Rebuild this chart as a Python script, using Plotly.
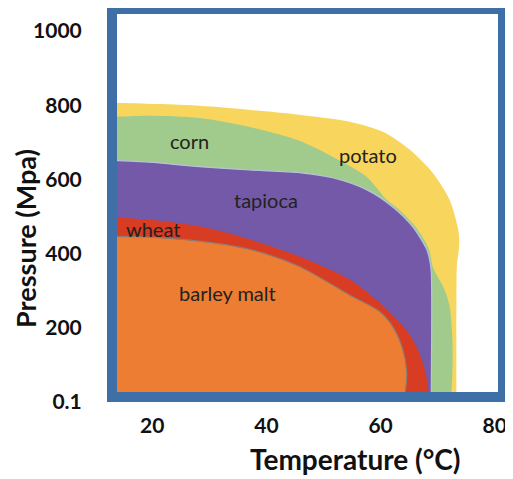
import plotly.graph_objects as go

# Boundary of each crop's region (temperature in °C, pressure in MPa)
potato_temp = [8, 12, 27.4, 36.2, 44.9, 53.7, 59.5, 64.2, 68.2, 71.2, 72.6, 72.9, 72.8, 72.5, 72.4, 72.4, 72.4, 8]
potato_pres = [793, 793, 785, 774, 761, 742, 715, 667, 605, 532, 460, 425, 392, 360, 263, 0, -60, -60]

corn_temp = [8, 12, 18.65, 27.4, 36.2, 44.9, 50.7, 56.65, 60.2, 62.4, 65.3, 67.6, 68.3, 70.3, 71.2, 71.7, 71.7, 71.5, 71.5, 8]
corn_pres = [755, 755, 758, 752, 728, 691, 648, 594, 532, 505, 458, 398, 349, 290, 245, 156, 67, 0, -60, -60]

tapioca_temp = [8, 12, 18.65, 27.4, 36.2, 44.9, 50.7, 56.65, 61.2, 64.7, 67.2, 67.7, 68.0, 68.0, 68.0, 8]
tapioca_pres = [638, 638, 633, 621, 612, 605, 591, 559, 513, 460, 398, 371, 336, 0, -60, -60]

wheat_temp = [8, 12, 18.65, 27.4, 36.2, 44.9, 53.7, 58.9, 62.4, 64.7, 66.5, 67.3, 67.6, 67.6, 8]
wheat_pres = [484, 484, 478, 460, 425, 379, 317, 255, 202, 156, 94, 40, 0, -60, -60]

barley_temp = [8, 12, 18.65, 27.4, 36.2, 44.9, 53.7, 58.9, 61.2, 63.0, 63.7, 63.5, 63.2, 63.2, 8]
barley_pres = [433, 433, 431, 420, 398, 352, 275, 231, 191, 129, 67, 20, 0, -60, -60]

# Label positions (temperature, pressure) and text
label_text = ["potato", "corn", "tapioca", "wheat", "barley malt"]
label_temp = [57.0, 25.7, 39.0, 19.3, 32.3]
label_pres = [653, 689, 532, 452, 280]

y_ticks = [0.1, 200, 400, 600, 800, 1000]
y_ticktext = ["0.1", "200", "400", "600", "800", "1000"]
x_ticks = [20, 40, 60, 80]

regions = [
    ("potato", potato_temp, potato_pres, "#F8D55C", "rgba(0,0,0,0)"),
    ("corn", corn_temp, corn_pres, "#A1CB8C", "rgba(0,0,0,0)"),
    ("tapioca", tapioca_temp, tapioca_pres, "#7459A8", "#B6C3DE"),
    ("wheat", wheat_temp, wheat_pres, "#D83C22", "rgba(0,0,0,0)"),
    ("barley malt", barley_temp, barley_pres, "#EC7D33", "#8E7A70"),
]

fig = go.Figure()
for name, xs, ys, fill, edge in regions:
    fig.add_trace(go.Scatter(
        x=xs, y=ys, mode="lines", fill="toself", fillcolor=fill,
        line=dict(color=edge, width=1.2, shape="spline", smoothing=0.8),
        name=name, hoverinfo="name", showlegend=False,
    ))

for t, xv, yv in zip(label_text, label_temp, label_pres):
    fig.add_annotation(x=xv, y=yv, text=t, showarrow=False,
                       font=dict(family="Lato", size=20, color="#222222"))

title_font = dict(family="Lato", color="#111111", weight="bold")
fig.add_annotation(xref="paper", yref="paper", x=-0.22, y=0.41,
                   text="Pressure (Mpa)", textangle=-90, showarrow=False,
                   xanchor="center", yanchor="middle", font=dict(size=27, **title_font))
fig.add_annotation(xref="paper", yref="paper", x=0.623, y=-0.161,
                   text="Temperature (°C)", showarrow=False,
                   xanchor="center", yanchor="middle", font=dict(size=28, **title_font))

frame_color = "#3F6FA7"
fig.add_shape(type="rect", xref="paper", yref="paper", x0=0, x1=1, y0=0, y1=1,
              line=dict(color=frame_color, width=10), layer="above")

fig.update_xaxes(
    range=[12.08, 80.56], tickvals=x_ticks, showgrid=False, zeroline=False,
    showline=False, ticks="", ticklabelstandoff=14, ticklabelshift=-5,
    tickfont=dict(family="Lato", size=21, color="#111111", weight="bold"),
)
fig.update_yaxes(
    range=[0, 1046], tickvals=y_ticks, ticktext=y_ticktext, showgrid=False,
    zeroline=False, showline=False, ticks="outside", ticklen=4, tickcolor="#9aa4b4",
    ticklabelstandoff=21, ticklabelshift=5,
    tickfont=dict(family="Lato", size=21, color="#111111", weight="bold"),
)

fig.update_layout(
    width=505, height=471,
    margin=dict(l=104, r=10, t=1, b=82, autoexpand=False),
    plot_bgcolor="white", paper_bgcolor="white",
)

fig.write_html("out.html")
